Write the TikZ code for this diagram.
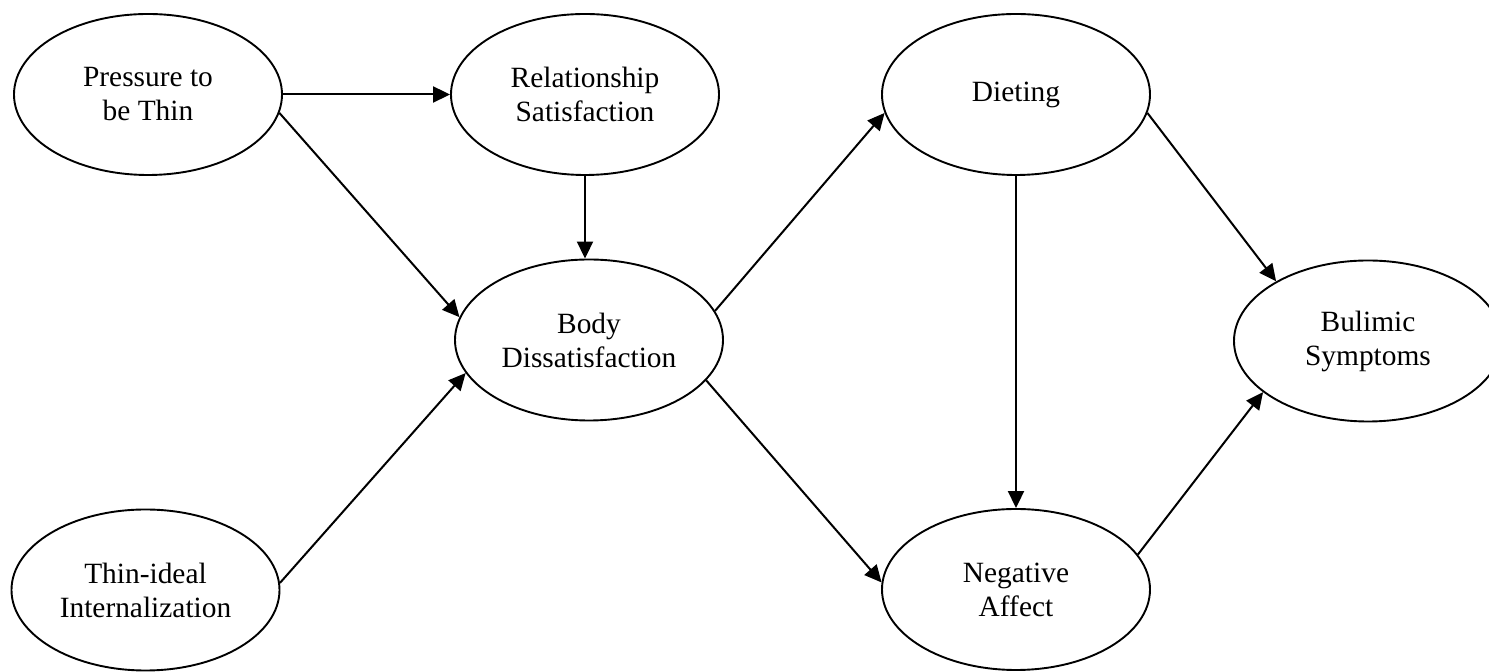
\documentclass[tikz,border=0pt]{standalone}
\usepackage{fontspec}
\setmainfont{Liberation Serif}
\usetikzlibrary{shapes.geometric,arrows.meta}
\tikzset{
  construct/.style={draw, ellipse, line width=0.95pt, minimum width=134pt,
    minimum height=80.5pt, inner sep=0pt, align=center,
    font=\fontsize{14.7}{17}\selectfont},
  effect/.style={-{Triangle[length=8.5pt,width=8pt]}, line width=1pt}
}
\begin{document}
\begin{tikzpicture}[x=0.5pt,y=-0.5pt]
\clip (0,0) rectangle (1489,672);
% constructs
\node[construct] (press) at (148,94.5) {Pressure to\\be Thin};
\node[construct] (rel) at (585,94.5) {Relationship\\Satisfaction};
\node[construct] (diet) at (1016,94.5) {Dieting};
\node[construct] (body) at (589,340) {Body\\Dissatisfaction};
\node[construct] (bul) at (1368,341) {Bulimic\\Symptoms};
\node[construct] (thin) at (145.5,590) {Thin-ideal\\Internalization};
\node[construct] (neg) at (1016,589.5) {Negative\\Affect};
% paths
\draw[effect] (press) -- (rel);
\draw[effect] (press.-8) -- (body.170);
\draw[effect] (rel.south) -- (rel.south |- body.north);
\draw[effect] (thin.3) -- (body.195.6);
\draw[effect] (body.13.7) -- (diet.188.7);
\draw[effect] (body.-19.3) -- (neg.177.2);
\draw[effect] (diet.south) -- (neg.north);
\draw[effect] (diet.-8.7) -- (bul.147.5);
\draw[effect] (neg.16.7) -- (bul.206.6);
\end{tikzpicture}
\end{document}
